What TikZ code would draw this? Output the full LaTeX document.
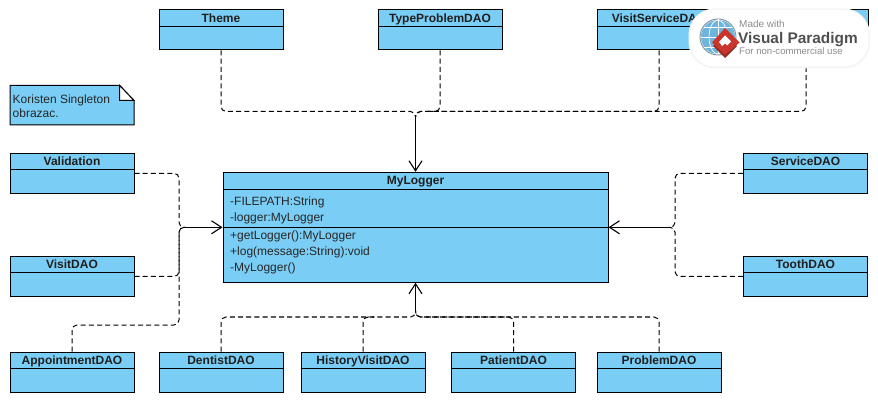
\documentclass[tikz,border=0pt]{standalone}
\usepackage{fontspec}
\setmainfont{Liberation Sans}
\usetikzlibrary{arrows.meta}
\definecolor{classfill}{HTML}{7ACEF5}
\definecolor{vpgray}{HTML}{8C8C8C}
\definecolor{vpdark}{HTML}{505050}
\definecolor{vpred}{HTML}{C9352B}
\definecolor{vpblue}{HTML}{6DB5DD}
\tikzset{
  classbox/.style={draw=black,fill=classfill,line width=1pt,minimum width=124pt,minimum height=40pt,inner sep=0pt},
  loggerbox/.style={classbox,minimum width=385pt,minimum height=110pt},
  classtitle/.style={font=\fontsize{12}{14}\selectfont\bfseries,text=black!88,inner sep=0pt,anchor=base},
  member/.style={font=\fontsize{12}{14}\selectfont,text=black!85,anchor=base west,inner sep=0pt},
  divider/.style={line width=1pt},
  dep/.style={draw=black,line width=1pt,dash pattern=on 5pt off 3.2pt,rounded corners=5pt},
  assoc/.style={draw=black,line width=1pt,-{Straight Barb[length=10pt,width=13pt,line width=1.1pt]}},
}
\newcommand{\classnode}[4]{%
  \node[classbox] (#1) at (#3,#4) {};
  \node[classtitle] (#1-title) at ([yshift=-12.8pt]#1.north) {#2};
  \draw[divider] ([yshift=-17pt]#1.north west) -- ([yshift=-17pt]#1.north east);
}
\begin{document}
\begin{tikzpicture}[x=1pt,y=-1pt]
\useasboundingbox (0,0) rectangle (878,403);
% classes
\classnode{theme}{Theme}{221}{30}
\classnode{typeproblem}{TypeProblemDAO}{440}{30}
\classnode{visitservice}{VisitServiceDAO}{659}{30}
\classnode{hiddenclass}{}{806}{30}
\classnode{validation}{Validation}{72}{173.3}
\classnode{visit}{VisitDAO}{72}{276.5}
\classnode{appointment}{AppointmentDAO}{72}{372}
\classnode{dentist}{DentistDAO}{221}{372}
\classnode{history}{HistoryVisitDAO}{363}{372}
\classnode{patient}{PatientDAO}{513.5}{372}
\classnode{problem}{ProblemDAO}{659}{372}
\classnode{service}{ServiceDAO}{805.5}{173.3}
\classnode{tooth}{ToothDAO}{805.5}{276.5}
% logger
\node[loggerbox] (logger) at (415.5,227.3) {};
\node[classtitle] (logger-title) at ([yshift=-12.8pt]logger.north) {MyLogger};
\draw[divider] ([yshift=-17.5pt]logger.north west) -- ([yshift=-17.5pt]logger.north east);
\draw[divider] (logger.west) -- (logger.east);
\node[member] (m1) at (230,205.8) {-FILEPATH:String};
\node[member] (m2) at (230,221.8) {-logger:MyLogger};
\node[member] (m3) at (230,239.8) {+getLogger():MyLogger};
\node[member] (m4) at (230,255.8) {+log(message:String):void};
\node[member] (m5) at (230,271.8) {-MyLogger()};
% note
\draw[fill=classfill,line width=1pt] (10,85.3) -- (119.5,85.3) -- (134,100.5) -- (134,125) -- (10,125) -- cycle;
\draw[fill=white,line width=1pt] (119.5,85.3) -- (119.5,100.5) -- (134,100.5) -- cycle;
\node[member] (note1) at (12.5,103.5) {Koristen Singleton};
\node[member] (note2) at (12.5,117.5) {obrazac.};
% junctions
\coordinate (topcorner) at (415.5,111.5);
\coordinate (topjoint) at (415.5,117);
\coordinate (topmerge) at (426,111.5);
\coordinate (botcorner) at (415.5,317);
\coordinate (botjoint) at (415.5,311);
\coordinate (botmerge) at (374,317);
\coordinate (leftcorner) at (179,227.3);
\coordinate (leftjoint) at (185,227.3);
\coordinate (leftbend) at (179,325);
\coordinate (rightcorner) at (675,227.3);
\coordinate (rightjoint) at (669,227.3);
% dependencies
\draw[dep] (theme.south) |- (topcorner) -- (topjoint);
\draw[dep] (typeproblem.south) |- (topmerge);
\draw[dep] (visitservice.south) |- (topcorner) -- (topjoint);
\draw[dep] (hiddenclass.south) |- (topcorner) -- (topjoint);
\draw[assoc] (topjoint) -- (logger.north);
\draw[dep] (validation.east) -| (leftcorner) -- (leftjoint);
\draw[dep] (visit.east) -| (leftcorner) -- (leftjoint);
\draw[dep] (appointment.north) |- (leftbend) -- (leftcorner) -- (leftjoint);
\draw[assoc] (leftjoint) -- (logger.west);
\draw[dep] (dentist.north) |- (botcorner) -- (botjoint);
\draw[dep] (history.north) |- (botmerge);
\draw[dep] (patient.north) |- (botcorner) -- (botjoint);
\draw[dep] (problem.north) |- (botcorner) -- (botjoint);
\draw[assoc] (botjoint) -- (logger.south);
\draw[dep] (service.west) -| (rightcorner) -- (rightjoint);
\draw[dep] (tooth.west) -| (rightcorner) -- (rightjoint);
\draw[assoc] (rightjoint) -- (logger.east);
% watermark
\fill[black!4,rounded corners=26pt] (688.5,8.5) rectangle (870,68.5);
\fill[white,rounded corners=25pt] (690,10) rectangle (868.5,66.5);
\fill[vpblue] (718,37) circle (17pt);
\draw[vpgray!70!vpblue,line width=1pt] (718,37) circle (18pt);
\draw[white,line width=0.7pt] (718,19.5) -- (718,54.5) (701,37) -- (735,37) (704,27) -- (732,27) (704,47) -- (732,47);
\draw[white,line width=0.7pt] (718,37) ellipse (9pt and 17pt);
\fill[vpred!75!black] (725,58) -- (713,46) -- (725,37) -- (737,46) -- cycle;
\fill[vpred] (725,28) -- (739.5,42.5) -- (725,55) -- (712,42.5) -- cycle;
\fill[white] (725,35.5) -- (731,41.5) -- (727,45.5) -- (725,43.5) -- (722,46) -- (719,42) -- cycle;
\node[inner sep=0pt,anchor=base west,text=vpgray,font=\fontsize{10}{12}\selectfont] (vp1) at (739,28) {Made with};
\node[inner sep=0pt,anchor=base west,text=vpdark,font=\fontsize{15.4}{18}\selectfont\bfseries] (vp2) at (738,44) {Visual Paradigm};
\node[inner sep=0pt,anchor=base west,text=vpgray,font=\fontsize{9.6}{12}\selectfont] (vp3) at (739,55) {For non-commercial use};
\end{tikzpicture}
\end{document}
